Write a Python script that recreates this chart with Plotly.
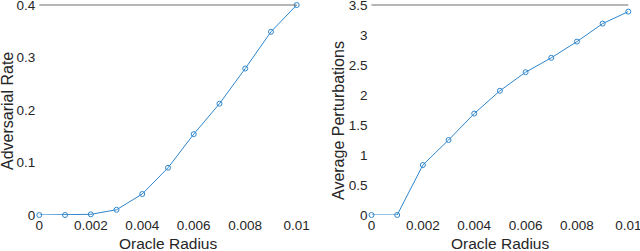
import plotly.graph_objects as go

radius = [0, 0.001, 0.002, 0.003, 0.004, 0.005, 0.006, 0.007, 0.008, 0.009, 0.01]
adv_rate = [0, 0, 0.0013, 0.010, 0.040, 0.090, 0.154, 0.212, 0.279, 0.349, 0.40]
avg_pert = [0, 0, 0.833, 1.25, 1.69, 2.07, 2.38, 2.62, 2.89, 3.19, 3.39]

x_ticks = [0, 0.002, 0.004, 0.006, 0.008, 0.01]
x_labels = ["0", "0.002", "0.004", "0.006", "0.008", "0.01"]
y1_ticks = [0, 0.1, 0.2, 0.3, 0.4]
y1_labels = ["0", "0.1", "0.2", "0.3", "0.4"]
y2_ticks = [0, 0.5, 1, 1.5, 2, 2.5, 3, 3.5]
y2_labels = ["0", "0.5", "1", "1.5", "2", "2.5", "3", "3.5"]

W, H = 640, 251
line_color = "#2f86cc"
font = dict(family="Liberation Sans, Arial, Helvetica, sans-serif", size=13.5, color="#262626")
xtitle_font = dict(font, size=15.5)
ytitle_font = dict(font, size=16)

fig = go.Figure()
fig.add_trace(go.Scatter(x=radius, y=adv_rate, mode="lines+markers", xaxis="x", yaxis="y",
                         line=dict(color=line_color, width=1),
                         marker=dict(symbol="circle-open", size=5, color=line_color, line=dict(width=1)),
                         cliponaxis=False, showlegend=False))
fig.add_trace(go.Scatter(x=radius, y=avg_pert, mode="lines+markers", xaxis="x2", yaxis="y2",
                         line=dict(color=line_color, width=1),
                         marker=dict(symbol="circle-open", size=5, color=line_color, line=dict(width=1)),
                         cliponaxis=False, showlegend=False))

ydom = [(H - 215) / H, (H - 5) / H]
d1 = [39.3 / W, 296.7 / W]
d2 = [371.5 / W, 628.3 / W]

common_x = dict(range=[0, 0.01], tickvals=x_ticks, ticktext=x_labels, showgrid=False, zeroline=False,
                showline=False, ticks="", tickfont=font, automargin=False, fixedrange=True,
                ticklabeloverflow="allow")
common_y = dict(showgrid=False, zeroline=False, showline=False, ticks="", tickfont=font,
                automargin=False, fixedrange=True, domain=ydom, ticklabeloverflow="allow",
                ticklabelstandoff=3)

fig.update_layout(
    width=W, height=H, margin=dict(l=0, r=0, t=0, b=0),
    paper_bgcolor="white", plot_bgcolor="white", font=font,
    xaxis=dict(domain=d1, anchor="y", **common_x),
    yaxis=dict(range=[0, 0.4], tickvals=y1_ticks, ticktext=y1_labels, anchor="x", **common_y),
    xaxis2=dict(domain=d2, anchor="y2", **common_x),
    yaxis2=dict(range=[0, 3.5], tickvals=y2_ticks, ticktext=y2_labels, anchor="x2", **common_y),
    shapes=[
        dict(type="line", xref="paper", yref="paper", x0=d1[0], x1=d1[1], y0=ydom[1], y1=ydom[1],
             line=dict(color="#6e6e6e", width=1.2)),
        dict(type="line", xref="paper", yref="paper", x0=d2[0], x1=d2[1], y0=ydom[1], y1=ydom[1],
             line=dict(color="#6e6e6e", width=1.2)),
    ],
    annotations=[
        dict(text="Oracle Radius", xref="paper", yref="paper", x=(d1[0] + d1[1]) / 2, y=(H - 243) / H,
             showarrow=False, font=xtitle_font, xanchor="center", yanchor="middle"),
        dict(text="Oracle Radius", xref="paper", yref="paper", x=(d2[0] + d2[1]) / 2, y=(H - 243) / H,
             showarrow=False, font=xtitle_font, xanchor="center", yanchor="middle"),
        dict(text="Adversarial Rate", xref="paper", yref="paper", x=7 / W, y=(H - 111) / H,
             showarrow=False, textangle=-90, font=ytitle_font, xanchor="center", yanchor="middle"),
        dict(text="Average Perturbations", xref="paper", yref="paper", x=338 / W, y=(H - 121) / H,
             showarrow=False, textangle=-90, font=ytitle_font, xanchor="center", yanchor="middle"),
    ],
)

fig.write_html("out.html", config={"displayModeBar": False},
               post_script="document.body.style.margin='0';document.body.style.padding='0';")
